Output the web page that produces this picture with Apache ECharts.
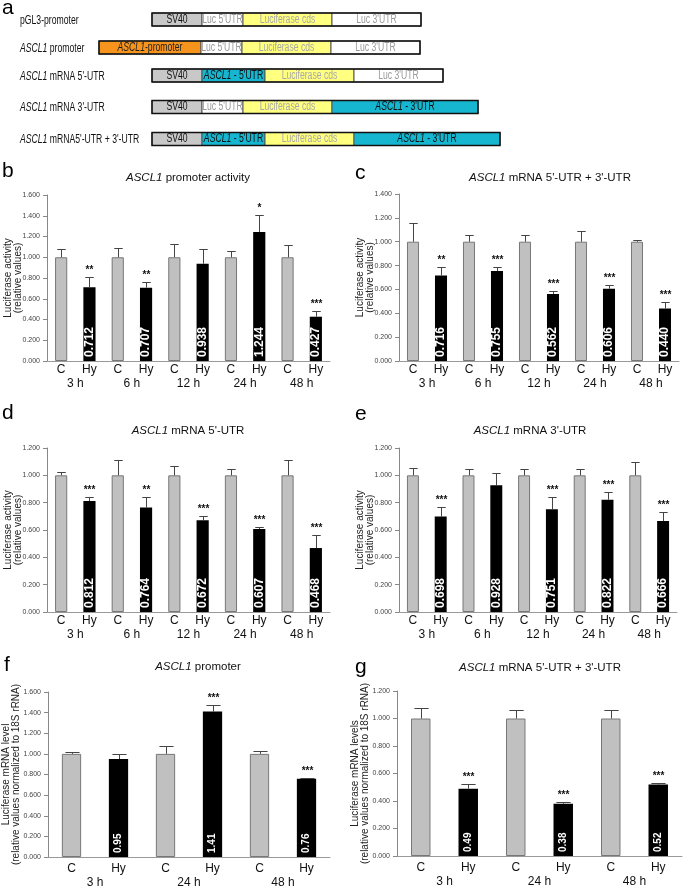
<!DOCTYPE html>
<html>
<head>
<meta charset="utf-8">
<script src="https://cdn.jsdelivr.net/npm/echarts@6/dist/echarts.min.js"></script>
<style>
  html, body { margin: 0; padding: 0; background: #fff; }
  #chart { width: 683px; height: 889px; }
</style>
</head>
<body>
<div id="chart"></div>
<script>
const FONT = 'Liberation Sans, Arial, sans-serif';

// ---- panel a: reporter constructs ----
const constructNames = [
  'pGL3-promoter',
  '{i|ASCL1} promoter',
  '{i|ASCL1} mRNA 5\'-UTR',
  '{i|ASCL1} mRNA 3\'-UTR',
  '{i|ASCL1} mRNA5\'-UTR + 3\'-UTR'
];
const constructParts = [
  ['sv40', 'luc5', 'cds', 'luc3'],
  ['prom', 'luc5', 'cds', 'luc3'],
  ['sv40', 'a5', 'cds', 'luc3'],
  ['sv40', 'luc5', 'cds', 'a3'],
  ['sv40', 'a5', 'cds', 'a3']
];

// ---- bar panels (C = control, Hy = hypoxia) ----
const timesLong = ['3 h', '6 h', '12 h', '24 h', '48 h'];
const timesShort = ['3 h', '24 h', '48 h'];

// b: ASCL1 promoter activity
const bControl = [1, 1, 1, 1, 1];
const bControlTop = [1.075, 1.09, 1.13, 1.065, 1.12];
const bHypoxia = [0.712, 0.707, 0.938, 1.244, 0.427];
const bHypoxiaTop = [0.81, 0.765, 1.08, 1.41, 0.48];
const bStars = ['**', '**', '', '*', '***'];

// c: ASCL1 mRNA 5'-UTR + 3'-UTR
const cControl = [1, 1, 1, 1, 1];
const cControlTop = [1.155, 1.06, 1.06, 1.09, 1.015];
const cHypoxia = [0.716, 0.755, 0.562, 0.606, 0.440];
const cHypoxiaTop = [0.785, 0.785, 0.59, 0.64, 0.495];
const cStars = ['**', '***', '***', '***', '***'];

// d: ASCL1 mRNA 5'-UTR
const dControl = [1, 1, 1, 1, 1];
const dControlTop = [1.025, 1.115, 1.07, 1.045, 1.115];
const dHypoxia = [0.812, 0.764, 0.672, 0.607, 0.468];
const dHypoxiaTop = [0.84, 0.845, 0.70, 0.62, 0.56];
const dStars = ['***', '**', '***', '***', '***'];

// e: ASCL1 mRNA 3'-UTR
const eControl = [1, 1, 1, 1, 1];
const eControlTop = [1.055, 1.045, 1.045, 1.05, 1.095];
const eHypoxia = [0.698, 0.928, 0.751, 0.822, 0.666];
const eHypoxiaTop = [0.765, 1.02, 0.845, 0.875, 0.73];
const eStars = ['***', '', '***', '***', '***'];

// f: ASCL1 promoter (mRNA level)
const fControl = [1, 1, 1];
const fControlTop = [1.02, 1.075, 1.025];
const fHypoxia = [0.95, 1.41, 0.76];
const fHypoxiaTop = [0.995, 1.47, 0.77];
const fStars = ['', '***', '***'];

// g: ASCL1 mRNA 5'-UTR + 3'-UTR (mRNA level)
const gControl = [1, 1, 1];
const gControlTop = [1.075, 1.06, 1.06];
const gHypoxia = [0.49, 0.38, 0.52];
const gHypoxiaTop = [0.525, 0.39, 0.53];
const gStars = ['***', '***', '***'];

const actName = 'Luciferase activity\n(relative values)';

const panels = [
  { letter: 'b', title: '{i|ASCL1} promoter activity', titleX: 188, titleY: 178, letterX: 2, letterY: 173,
    grid: { left: 47, top: 195, width: 283, height: 166 }, max: 1.6,
    times: timesLong, ctrl: bControl, ctrlTop: bControlTop, hy: bHypoxia, hyTop: bHypoxiaTop, stars: bStars,
    digits: 3, yName: actName, small: true },
  { letter: 'c', title: '{i|ASCL1} mRNA 5\'-UTR + 3\'-UTR', titleX: 550, titleY: 178, letterX: 355, letterY: 175,
    grid: { left: 399, top: 194, width: 280, height: 167 }, max: 1.4,
    times: timesLong, ctrl: cControl, ctrlTop: cControlTop, hy: cHypoxia, hyTop: cHypoxiaTop, stars: cStars,
    digits: 3, yName: actName, small: true },
  { letter: 'd', title: '{i|ASCL1} mRNA 5\'-UTR', titleX: 188, titleY: 431, letterX: 2, letterY: 415,
    grid: { left: 47, top: 448, width: 283, height: 164 }, max: 1.2,
    times: timesLong, ctrl: dControl, ctrlTop: dControlTop, hy: dHypoxia, hyTop: dHypoxiaTop, stars: dStars,
    digits: 3, yName: actName, small: true },
  { letter: 'e', title: '{i|ASCL1} mRNA 3\'-UTR', titleX: 530, titleY: 431, letterX: 355, letterY: 416,
    grid: { left: 399, top: 448, width: 278, height: 164 }, max: 1.2,
    times: timesLong, ctrl: eControl, ctrlTop: eControlTop, hy: eHypoxia, hyTop: eHypoxiaTop, stars: eStars,
    digits: 3, yName: actName, small: true },
  { letter: 'f', title: '{i|ASCL1} promoter', titleX: 198, titleY: 667, letterX: 4, letterY: 667,
    grid: { left: 45, top: 692, width: 285, height: 166 }, max: 1.6,
    times: timesShort, ctrl: fControl, ctrlTop: fControlTop, hy: fHypoxia, hyTop: fHypoxiaTop, stars: fStars,
    digits: 2, yName: 'Luciferase mRNA level\n(relative values normalized to 18S rRNA)', small: false },
  { letter: 'g', title: '{i|ASCL1} mRNA 5\'-UTR + 3\'-UTR', titleX: 540, titleY: 668, letterX: 355, letterY: 669,
    grid: { left: 397, top: 691, width: 285, height: 165 }, max: 1.2,
    times: timesShort, ctrl: gControl, ctrlTop: gControlTop, hy: gHypoxia, hyTop: gHypoxiaTop, stars: gStars,
    digits: 2, yName: 'Luciferase mRNA levels\n(relative values normalized to 18S rRNA)', small: false }
];

const grids = [], xAxes = [], yAxes = [], series = [], graphics = [];

panels.forEach((p, i) => {
  grids.push(p.grid);
  const cats = [];
  const barData = [];
  const errData = [];
  const starByIdx = [];
  p.times.forEach((t, k) => {
    cats.push('C', 'Hy');
    barData.push({ value: p.ctrl[k], itemStyle: { color: '#c0c0c0', borderColor: '#777', borderWidth: 1 } });
    barData.push({ value: p.hy[k], itemStyle: { color: '#000' }, label: { show: true } });
    errData.push([2 * k, p.ctrl[k], p.ctrlTop[k]]);
    errData.push([2 * k + 1, p.hy[k], p.hyTop[k]]);
    starByIdx.push('', p.stars[k]);
  });

  xAxes.push({
    type: 'category', gridIndex: i, position: 'bottom', data: cats,
    axisLine: { onZero: false, lineStyle: { color: '#999' } },
    axisTick: { length: p.small ? 14 : 16, interval: 0, lineStyle: { color: '#999' } },
    axisLabel: { interval: 0, margin: p.small ? 3 : 6, fontSize: 12, color: '#111', fontFamily: FONT }
  });
  xAxes.push({
    type: 'category', gridIndex: i, position: 'bottom', data: p.times,
    axisLine: { show: false, onZero: false },
    axisTick: { length: p.small ? 30 : 34, interval: 0, lineStyle: { color: '#999' } },
    axisLabel: { interval: 0, margin: p.small ? 17 : 20, fontSize: 12, color: '#111', fontFamily: FONT }
  });
  yAxes.push({
    type: 'value', gridIndex: i, min: 0, max: p.max, interval: 0.2,
    axisLine: { show: true, lineStyle: { color: '#888' } },
    axisTick: { show: true, length: 4, lineStyle: { color: '#888' } },
    splitLine: { show: false },
    axisLabel: { fontSize: 7, color: '#444', margin: 7, fontFamily: FONT, formatter: v => v.toFixed(3) },
    name: p.yName, nameLocation: 'middle', nameRotate: 90, nameGap: p.small ? 24 : 27, nameMoveOverlap: false,
    nameTextStyle: { fontSize: 10, color: '#222', lineHeight: 10, fontFamily: FONT }
  });

  series.push({
    type: 'bar', xAxisIndex: 2 * i, yAxisIndex: i, barWidth: p.small ? '43%' : '41%',
    data: barData, animation: false,
    label: {
      show: false, position: 'insideBottom', rotate: 90, align: 'left', verticalAlign: 'middle',
      distance: 4, color: '#fff', fontWeight: 'bold', fontSize: p.small ? 12 : 10, fontFamily: FONT,
      formatter: q => q.value.toFixed(p.digits)
    }
  });
  series.push({
    type: 'custom', xAxisIndex: 2 * i, yAxisIndex: i, data: errData, animation: false, z: 5,
    renderItem: (params, api) => {
      const base = api.coord([api.value(0), api.value(1)]);
      const top = api.coord([api.value(0), api.value(2)]);
      const hw = api.size([1, 0])[0] * 0.15;
      const x = Math.round(base[0]) + 0.5;
      const ty = Math.round(top[1]) + 0.5;
      const children = [
        { type: 'line', shape: { x1: x, y1: base[1], x2: x, y2: ty }, style: { stroke: '#444', lineWidth: 1 } },
        { type: 'line', shape: { x1: x - hw, y1: ty, x2: x + hw, y2: ty }, style: { stroke: '#444', lineWidth: 1 } }
      ];
      const star = starByIdx[params.dataIndex];
      if (star) {
        children.push({ type: 'text', style: { text: star, x: x, y: ty - 2, align: 'center', verticalAlign: 'bottom',
          fontSize: 10, fontWeight: 'bold', fontFamily: FONT, fill: '#111' } });
      }
      return { type: 'group', children };
    }
  });

  graphics.push({ type: 'text', left: p.letterX, top: p.letterY - 12,
    style: { text: p.letter, fontSize: 21, fontFamily: FONT, fill: '#000' } });
  graphics.push({ type: 'text', x: p.titleX, y: p.titleY,
    style: { text: p.title, align: 'center', verticalAlign: 'middle', fontSize: 11.5, fontFamily: FONT, fill: '#111',
      rich: { i: { fontStyle: 'italic', fontSize: 11.5, fontFamily: FONT, fill: '#111' } } } });
});

// ---- panel a drawing (text squeezed to mimic the narrow typeface) ----
const partLayout = {
  sv40: { w: 50, fill: '#c8c8c8', color: '#111', text: 'SV40' },
  luc5: { w: 41, fill: '#ffffff', color: '#9a9a9a', text: 'Luc 5\'UTR' },
  cds:  { w: 89, fill: '#ffff80', color: '#a8a8a8', text: 'Luciferase cds' },
  luc3: { w: 89, fill: '#ffffff', color: '#9a9a9a', text: 'Luc 3\'UTR' },
  prom: { w: 102, fill: '#f7941d', color: '#222', text: '{i|ASCL1}-promoter' },
  a5:   { w: 63, fill: '#17b6d0', color: '#111', text: '{i|ASCL1} - 5\'UTR' },
  a3:   { w: 146, fill: '#17b6d0', color: '#111', text: '{i|ASCL1} - 3\'UTR' }
};
const rowStart = [152, 99, 152, 152, 152];
const rowY = [19.5, 47.5, 75.5, 107, 139];
const rowH = 13;
const squeeze = 0.72;

graphics.push({ type: 'text', left: 2, top: -2, style: { text: 'a', fontSize: 21, fontFamily: FONT, fill: '#000' } });
constructNames.forEach((name, r) => {
  graphics.push({ type: 'text', x: 20, y: rowY[r] + 1, scaleX: squeeze,
    style: { text: name, verticalAlign: 'middle', fontSize: 12, fontFamily: FONT, fill: '#111',
      rich: { i: { fontStyle: 'italic', fontSize: 12, fontFamily: FONT, fill: '#111' } } } });
  let x = rowStart[r];
  const y0 = rowY[r] - rowH / 2;
  constructParts[r].forEach(k => {
    const s = partLayout[k];
    graphics.push({ type: 'rect', shape: { x: x, y: y0, width: s.w, height: rowH },
      style: { fill: s.fill, stroke: '#555', lineWidth: 1 } });
    graphics.push({ type: 'text', x: x + s.w / 2, y: rowY[r], scaleX: squeeze,
      style: { text: s.text, align: 'center', verticalAlign: 'middle', fontSize: 12, fontFamily: FONT, fill: s.color,
        rich: { i: { fontStyle: 'italic', fontSize: 12, fontFamily: FONT, fill: s.color } } } });
    x += s.w;
  });
  graphics.push({ type: 'rect', shape: { x: rowStart[r], y: y0, width: x - rowStart[r], height: rowH },
    style: { fill: 'none', stroke: '#111', lineWidth: 1.5 } });
});

const chart = echarts.init(document.getElementById('chart'));
chart.setOption({
  animation: false,
  textStyle: { fontFamily: FONT },
  grid: grids,
  xAxis: xAxes,
  yAxis: yAxes,
  series: series,
  graphic: graphics
});
</script>
</body>
</html>
